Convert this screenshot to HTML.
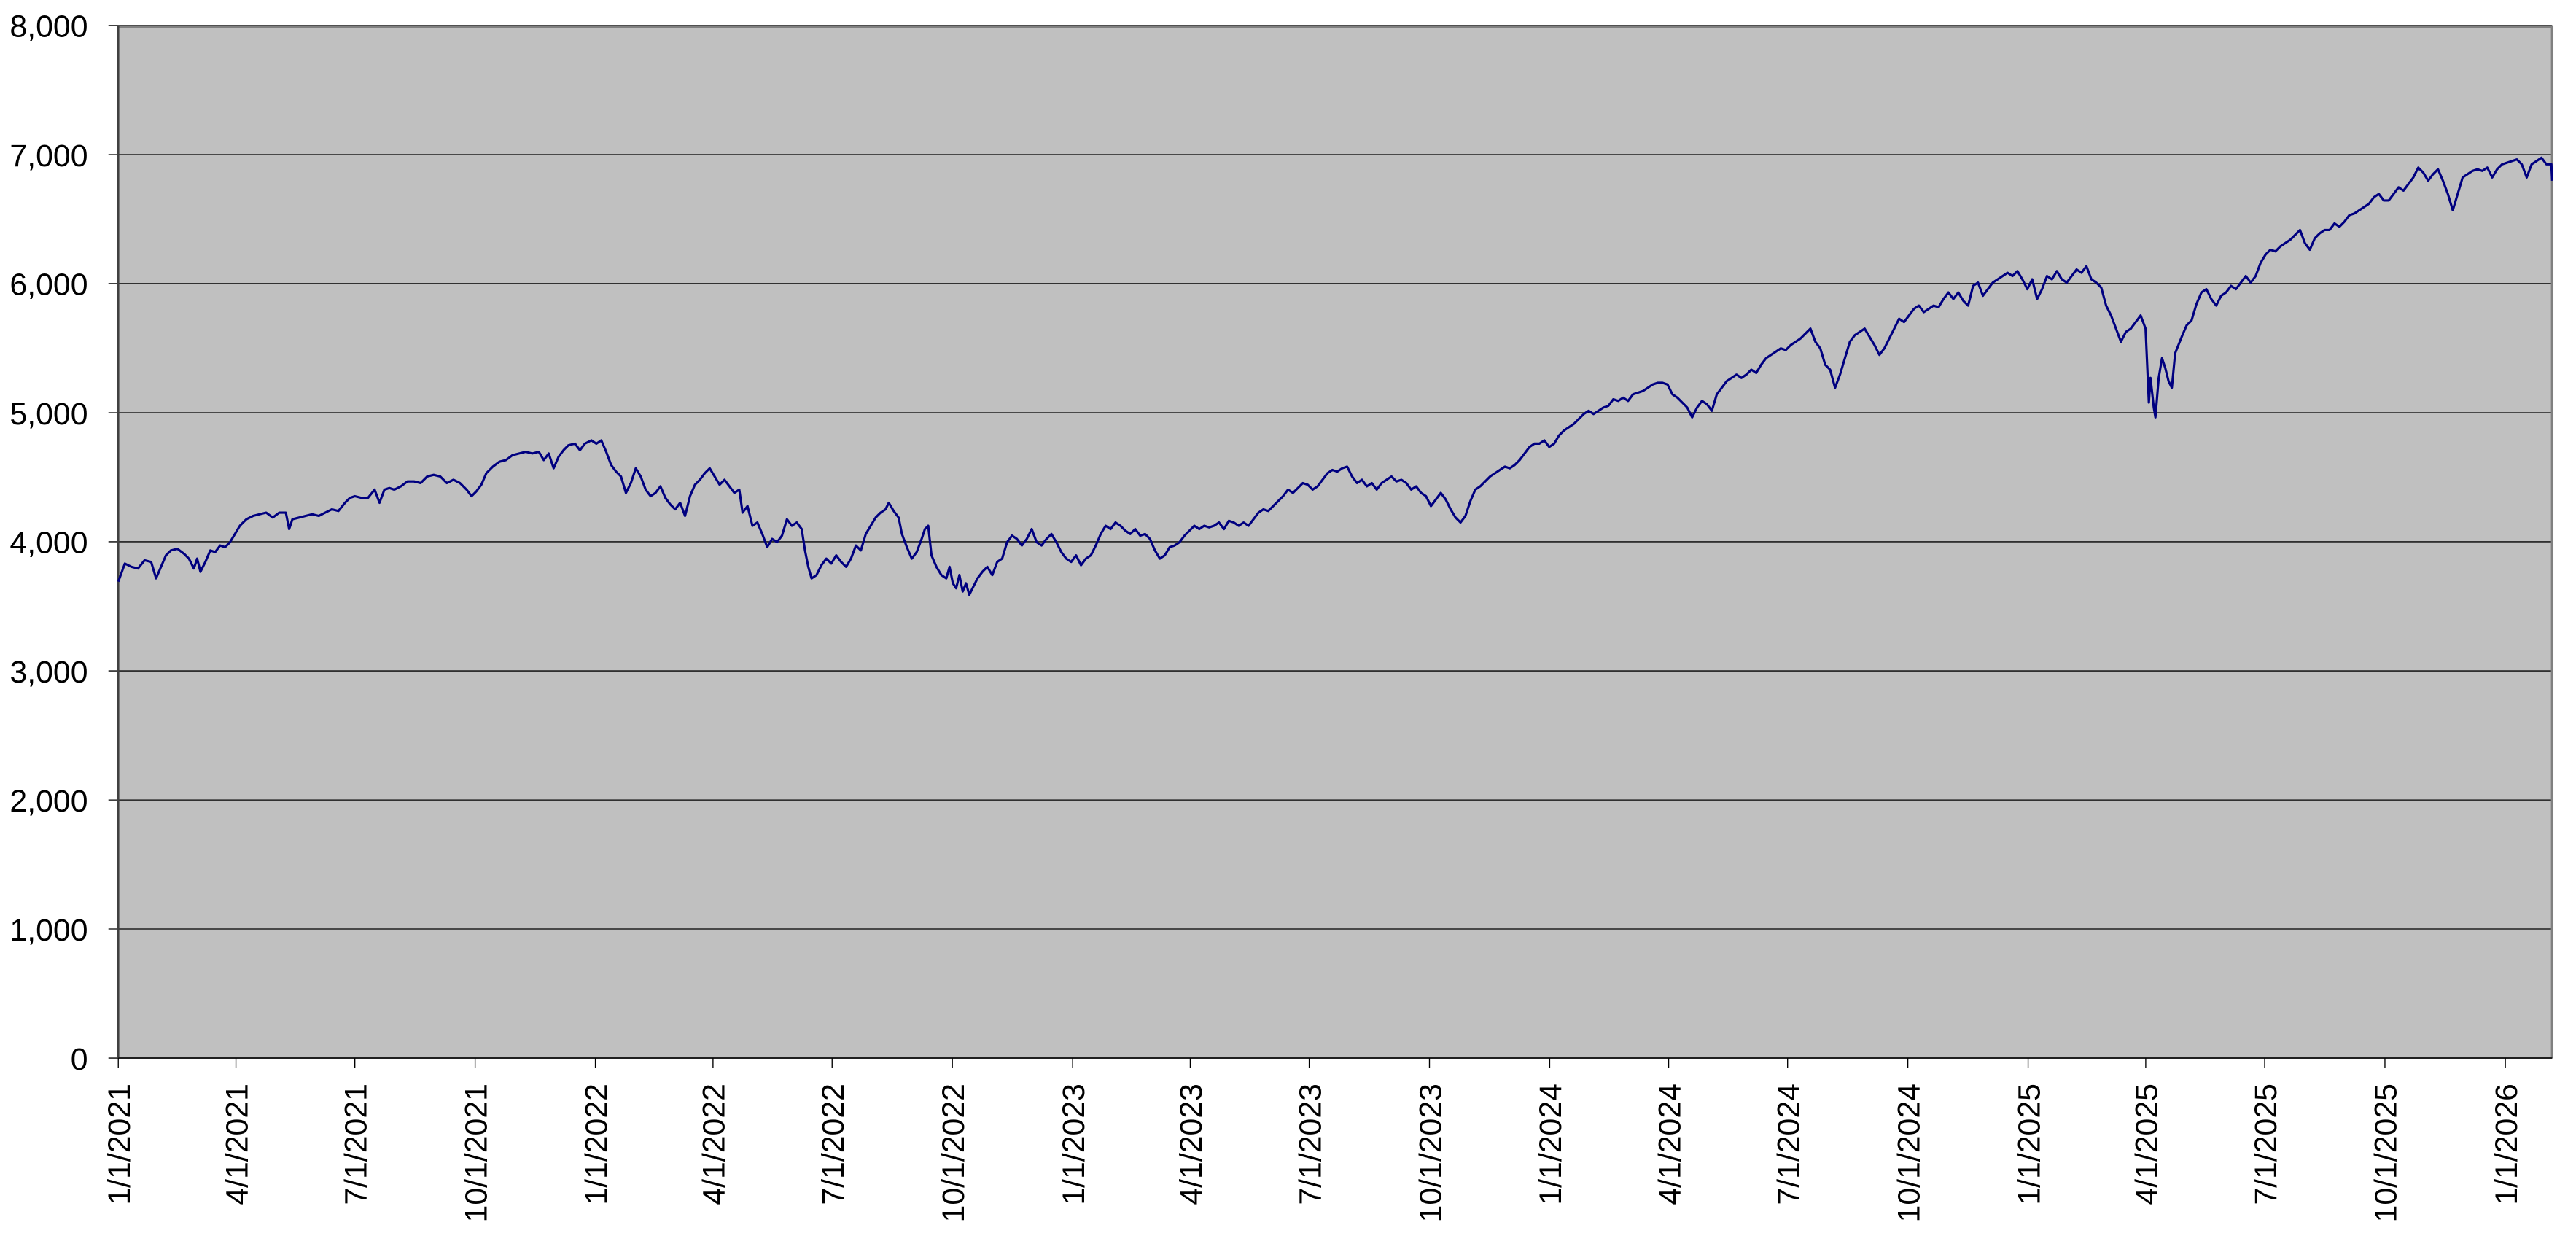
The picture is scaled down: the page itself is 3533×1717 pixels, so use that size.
<!DOCTYPE html>
<html><head><meta charset="utf-8"><style>
html,body{margin:0;padding:0;background:#fff;}
svg{display:block;}
text{font-family:"Liberation Sans",Arial,sans-serif;font-size:19px;fill:#000;}
</style></head><body>
<svg width="3533" height="1717" viewBox="0 0 1568 762" preserveAspectRatio="none">
<rect x="72" y="15.5" width="1481.5" height="628.5" fill="#c0c0c0"/>
<g stroke="#000" stroke-width="0.6">
<line x1="66" y1="15.5" x2="1553.5" y2="15.5"/>
<line x1="66" y1="94.1" x2="1553.5" y2="94.1"/>
<line x1="66" y1="172.6" x2="1553.5" y2="172.6"/>
<line x1="66" y1="251.2" x2="1553.5" y2="251.2"/>
<line x1="66" y1="329.7" x2="1553.5" y2="329.7"/>
<line x1="66" y1="408.3" x2="1553.5" y2="408.3"/>
<line x1="66" y1="486.9" x2="1553.5" y2="486.9"/>
<line x1="66" y1="565.4" x2="1553.5" y2="565.4"/>
<line x1="66" y1="644" x2="1553.5" y2="644"/>
</g>
<line x1="72" y1="16.2" x2="1553.5" y2="16.2" stroke="#808080" stroke-width="1.5"/>
<line x1="1553.5" y1="15.5" x2="1553.5" y2="644" stroke="#808080" stroke-width="1.5"/>
<line x1="72" y1="15.5" x2="72" y2="644" stroke="#404040" stroke-width="1.2"/>
<line x1="72" y1="644" x2="1553.5" y2="644" stroke="#202020" stroke-width="1"/>
<g stroke="#000" stroke-width="0.6">
<line x1="72" y1="644" x2="72" y2="650"/><line x1="143.6" y1="644" x2="143.6" y2="650"/><line x1="216" y1="644" x2="216" y2="650"/><line x1="289.2" y1="644" x2="289.2" y2="650"/><line x1="362.4" y1="644" x2="362.4" y2="650"/><line x1="434" y1="644" x2="434" y2="650"/><line x1="506.5" y1="644" x2="506.5" y2="650"/><line x1="579.7" y1="644" x2="579.7" y2="650"/><line x1="652.9" y1="644" x2="652.9" y2="650"/><line x1="724.5" y1="644" x2="724.5" y2="650"/><line x1="796.9" y1="644" x2="796.9" y2="650"/><line x1="870.1" y1="644" x2="870.1" y2="650"/><line x1="943.3" y1="644" x2="943.3" y2="650"/><line x1="1015.7" y1="644" x2="1015.7" y2="650"/><line x1="1088.1" y1="644" x2="1088.1" y2="650"/><line x1="1161.3" y1="644" x2="1161.3" y2="650"/><line x1="1234.5" y1="644" x2="1234.5" y2="650"/><line x1="1306.1" y1="644" x2="1306.1" y2="650"/><line x1="1378.5" y1="644" x2="1378.5" y2="650"/><line x1="1451.7" y1="644" x2="1451.7" y2="650"/><line x1="1525" y1="644" x2="1525" y2="650"/>
</g>
<g text-anchor="end">
<text x="53.5" y="22.5">8,000</text>
<text x="53.5" y="101.1">7,000</text>
<text x="53.5" y="179.6">6,000</text>
<text x="53.5" y="258.2">5,000</text>
<text x="53.5" y="336.7">4,000</text>
<text x="53.5" y="415.3">3,000</text>
<text x="53.5" y="493.9">2,000</text>
<text x="53.5" y="572.4">1,000</text>
<text x="53.5" y="651">0</text>
</g>
<g text-anchor="end">
<text transform="translate(79,659.5) rotate(-90)">1/1/2021</text>
<text transform="translate(150.6,659.5) rotate(-90)">4/1/2021</text>
<text transform="translate(223,659.5) rotate(-90)">7/1/2021</text>
<text transform="translate(296.2,659.5) rotate(-90)">10/1/2021</text>
<text transform="translate(369.4,659.5) rotate(-90)">1/1/2022</text>
<text transform="translate(441,659.5) rotate(-90)">4/1/2022</text>
<text transform="translate(513.5,659.5) rotate(-90)">7/1/2022</text>
<text transform="translate(586.7,659.5) rotate(-90)">10/1/2022</text>
<text transform="translate(659.9,659.5) rotate(-90)">1/1/2023</text>
<text transform="translate(731.5,659.5) rotate(-90)">4/1/2023</text>
<text transform="translate(803.9,659.5) rotate(-90)">7/1/2023</text>
<text transform="translate(877.1,659.5) rotate(-90)">10/1/2023</text>
<text transform="translate(950.3,659.5) rotate(-90)">1/1/2024</text>
<text transform="translate(1022.7,659.5) rotate(-90)">4/1/2024</text>
<text transform="translate(1095.1,659.5) rotate(-90)">7/1/2024</text>
<text transform="translate(1168.3,659.5) rotate(-90)">10/1/2024</text>
<text transform="translate(1241.5,659.5) rotate(-90)">1/1/2025</text>
<text transform="translate(1313.1,659.5) rotate(-90)">4/1/2025</text>
<text transform="translate(1385.5,659.5) rotate(-90)">7/1/2025</text>
<text transform="translate(1458.7,659.5) rotate(-90)">10/1/2025</text>
<text transform="translate(1532,659.5) rotate(-90)">1/1/2026</text>
</g>
<polyline fill="none" stroke="#000080" stroke-width="1.4" stroke-linejoin="round" points="72,354 76,343 80,345 84,346 88,341 92,342 95,352 98,345 101,338 104,335 108,334 112,337 115,340 118,346 120,340 122,348 125,342 128,335 131,336 134,332 137,333 140,330 143,325 146,320 150,316 154,314 158,313 162,312 166,315 170,312 174,312 176,322 178,316 182,315 186,314 190,313 194,314 198,312 202,310 206,311 210,306 213,303 216,302 220,303 224,303 228,298 231,306 234,298 237,297 240,298 244,296 248,293 252,293 256,294 260,290 264,289 268,290 272,294 276,292 280,294 284,298 287,302 290,299 293,295 296,288 300,284 304,281 308,280 312,277 316,276 320,275 324,276 328,275 331,280 334,276 337,285 340,278 343,274 346,271 350,270 353,274 356,270 360,268 363,270 366,268 369,275 372,283 375,287 378,290 381,300 384,294 387,285 390,290 393,298 396,302 399,300 402,296 405,303 408,307 411,310 414,306 417,314 420,302 423,295 426,292 429,288 432,285 435,290 438,295 441,292 444,296 447,300 450,298 452,312 455,308 458,320 461,318 464,325 467,333 470,328 473,330 476,326 479,316 482,320 485,318 488,322 490,335 492,345 494,352 497,350 500,344 503,340 506,343 509,338 512,342 515,345 518,340 521,332 524,335 527,325 530,320 533,315 536,312 539,310 541,306 544,311 547,315 549,325 552,333 555,340 558,336 561,328 563,322 565,320 567,338 570,345 573,350 576,352 578,345 580,355 582,358 584,350 586,360 588,355 590,362 592,358 595,352 598,348 601,345 604,350 607,342 610,340 613,330 616,326 619,328 622,332 625,328 628,322 631,330 634,332 637,328 640,325 643,330 646,336 649,340 652,342 655,338 658,344 661,340 664,338 667,332 670,325 673,320 676,322 679,318 682,320 685,323 688,325 691,322 694,326 697,325 700,328 703,335 706,340 709,338 712,333 715,332 718,330 721,326 724,323 727,320 730,322 733,320 736,321 739,320 742,318 745,322 748,317 751,318 754,320 757,318 760,320 763,316 766,312 769,310 772,311 775,308 778,305 781,302 784,298 787,300 790,297 793,294 796,295 799,298 802,296 805,292 808,288 811,286 814,287 817,285 820,284 823,290 826,294 829,292 832,296 835,294 838,298 841,294 844,292 847,290 850,293 853,292 856,294 859,298 862,296 865,300 868,302 871,308 874,304 877,300 880,304 883,310 886,315 889,318 892,314 895,305 898,298 901,296 904,293 907,290 910,288 913,286 916,284 919,285 922,283 925,280 928,276 931,272 934,270 937,270 940,268 943,272 946,270 949,265 952,262 955,260 958,258 961,255 964,252 967,250 970,252 973,250 976,248 979,247 982,243 985,244 988,242 991,244 994,240 997,239 1000,238 1003,236 1006,234 1009,233 1012,233 1015,234 1018,240 1021,242 1024,245 1027,248 1030,254 1033,248 1036,244 1039,246 1042,250 1045,240 1048,236 1051,232 1054,230 1057,228 1060,230 1063,228 1066,225 1069,227 1072,222 1075,218 1078,216 1081,214 1084,212 1087,213 1090,210 1093,208 1096,206 1099,203 1102,200 1105,208 1108,212 1111,222 1114,225 1117,236 1120,228 1123,218 1126,208 1129,204 1132,202 1135,200 1138,205 1141,210 1144,216 1147,212 1150,206 1153,200 1156,194 1159,196 1162,192 1165,188 1168,186 1171,190 1174,188 1177,186 1180,187 1183,182 1186,178 1189,182 1192,178 1195,183 1198,186 1201,174 1204,172 1207,180 1210,176 1213,172 1216,170 1219,168 1222,166 1225,168 1228,165 1231,170 1234,176 1237,170 1240,182 1243,176 1246,168 1249,170 1252,165 1255,170 1258,172 1261,168 1264,164 1267,166 1270,162 1273,170 1276,172 1279,175 1282,186 1285,192 1288,200 1291,208 1294,202 1297,200 1300,196 1303,192 1306,200 1308,245 1309,230 1311,248 1312,254 1314,230 1316,218 1318,224 1320,232 1322,236 1324,215 1326,210 1328,205 1331,198 1334,195 1337,185 1340,178 1343,176 1346,182 1349,186 1352,180 1355,178 1358,174 1361,176 1364,172 1367,168 1370,172 1373,168 1376,160 1379,155 1382,152 1385,153 1388,150 1391,148 1394,146 1397,143 1400,140 1403,148 1406,152 1409,145 1412,142 1415,140 1418,140 1421,136 1424,138 1427,135 1430,131 1433,130 1436,128 1439,126 1442,124 1445,120 1448,118 1451,122 1454,122 1457,118 1460,114 1463,116 1466,112 1469,108 1472,102 1475,105 1478,110 1481,106 1484,103 1487,110 1490,118 1493,128 1496,118 1499,108 1502,106 1505,104 1508,103 1511,104 1514,102 1517,108 1520,103 1523,100 1526,99 1529,98 1532,97 1535,100 1538,108 1541,100 1544,98 1547,96 1550,100 1553,100 1553.5,110"/>
</svg>
</body></html>
